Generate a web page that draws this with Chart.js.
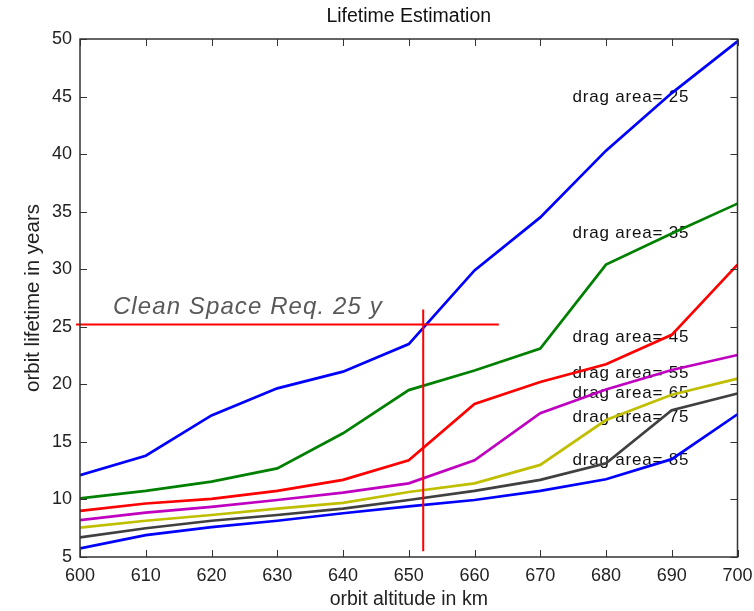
<!DOCTYPE html>
<html>
<head>
<meta charset="utf-8">
<script src="https://cdn.jsdelivr.net/npm/chart.js@4.4.1/dist/chart.umd.min.js"></script>
<style>
  html, body { margin: 0; padding: 0; background: #fff; }
  #wrap { width: 754px; height: 611px; }
</style>
</head>
<body>
<div id="wrap"><canvas id="lifetimeChart"></canvas></div>
<script>
// --- data ---
const altitudes = [600, 610, 620, 630, 640, 650, 660, 670, 680, 690, 700];
const dragAreas = [25, 35, 45, 55, 65, 75, 85];

// orbit lifetime in years per drag area
const life25 = [12.1, 13.8, 17.3, 19.65, 21.1, 23.5, 29.9, 34.5, 40.3, 45.3, 49.8];
const life35 = [10.1, 10.75, 11.55, 12.7, 15.75, 19.5, 21.2, 23.1, 30.4, 33.1, 35.7];
const life45 = [9.0, 9.65, 10.05, 10.75, 11.7, 13.4, 18.3, 20.2, 21.75, 24.3, 30.4];
const life55 = [8.2, 8.85, 9.35, 9.95, 10.6, 11.4, 13.4, 17.5, 19.55, 21.25, 22.55];
const life65 = [7.55, 8.15, 8.65, 9.2, 9.7, 10.65, 11.4, 13.0, 16.9, 19.1, 20.5];
const life75 = [6.7, 7.5, 8.15, 8.65, 9.2, 9.95, 10.75, 11.7, 13.15, 17.75, 19.2];
const life85 = [5.75, 6.9, 7.6, 8.15, 8.8, 9.4, 9.95, 10.75, 11.75, 13.5, 17.4];
const lifetimes = [life25, life35, life45, life55, life65, life75, life85];

// Clean Space requirement marker (25 years) and its crossing altitude
const reqYears = 25.2;
const reqSpan = [599.4, 663.7];
const crossAltitude = 652.2;
const crossSpan = [26.5, 5.5];

const lineColors = ['#0000ff', '#008000', '#ff0000', '#c000c0', '#bfbf00', '#404040', '#0000ff'];

// where the "drag area=" labels sit (data units)
const labelAlt = 674.9;
const labelLevels = [44.9, 33.1, 24.1, 21.0, 19.25, 17.15, 13.4];

const font = "'Liberation Sans', Arial, sans-serif";

// --- datasets ---
const datasets = [
    {
        label: 'req',
        data: reqSpan.map(a => ({ x: a, y: reqYears })),
        borderColor: '#ff0000', borderWidth: 2, pointRadius: 0, clip: false
    },
    {
        label: 'cross',
        data: crossSpan.map(v => ({ x: crossAltitude, y: v })),
        borderColor: '#ff0000', borderWidth: 2, pointRadius: 0, clip: false
    }
];
dragAreas.forEach((d, i) => {
    datasets.push({
        label: 'drag area= ' + d,
        data: altitudes.map((a, j) => ({ x: a, y: lifetimes[i][j] })),
        borderColor: lineColors[i],
        borderWidth: 2.7,
        pointRadius: 0,
        tension: 0
    });
});

// labels under the lines, then the Matlab-style box with inward ticks on top
const annotations = {
    id: 'annotations',
    beforeDatasetsDraw(chart) {
        const { ctx, scales: { x, y } } = chart;
        ctx.save();
        ctx.fillStyle = '#111';
        ctx.font = '17px ' + font;
        ctx.letterSpacing = '0.8px';
        ctx.textBaseline = 'middle';
        ctx.textAlign = 'left';
        dragAreas.forEach((d, i) => {
            ctx.fillText('drag area= ' + d, x.getPixelForValue(labelAlt), y.getPixelForValue(labelLevels[i]));
        });
        ctx.fillStyle = '#595959';
        ctx.font = 'italic 24px ' + font;
        ctx.letterSpacing = '1.1px';
        ctx.textBaseline = 'alphabetic';
        ctx.fillText('Clean Space Req. 25 y', x.getPixelForValue(605), y.getPixelForValue(reqYears) - 10);
        ctx.restore();
    },
    afterDraw(chart) {
        const { ctx, chartArea: a, scales: { x, y } } = chart;
        ctx.save();
        ctx.strokeStyle = '#333';
        ctx.lineWidth = 1.5;
        ctx.strokeRect(a.left, a.top, a.right - a.left, a.bottom - a.top);
        ctx.beginPath();
        x.ticks.forEach(t => {
            const px = Math.round(x.getPixelForValue(t.value)) + 0.5;
            ctx.moveTo(px, a.bottom); ctx.lineTo(px, a.bottom - 7);
            ctx.moveTo(px, a.top); ctx.lineTo(px, a.top + 7);
        });
        y.ticks.forEach(t => {
            const py = Math.round(y.getPixelForValue(t.value)) + 0.5;
            ctx.moveTo(a.left, py); ctx.lineTo(a.left + 7, py);
            ctx.moveTo(a.right, py); ctx.lineTo(a.right - 7, py);
        });
        ctx.lineWidth = 1;
        ctx.stroke();
        ctx.restore();
    }
};

new Chart(document.getElementById('lifetimeChart'), {
    type: 'line',
    data: { datasets },
    options: {
        responsive: true,
        maintainAspectRatio: false,
        animation: false,
        layout: { padding: { left: 0, right: 16.5, top: 0, bottom: 0 } },
        plugins: {
            legend: { display: false },
            tooltip: { enabled: false },
            title: {
                display: true,
                text: 'Lifetime Estimation',
                fullSize: false,
                color: '#111',
                font: { family: font, size: 19.5, weight: 'normal' },
                padding: { top: 5.3, bottom: 10.3 }
            }
        },
        scales: {
            x: {
                type: 'linear',
                min: 600, max: 700,
                grid: { display: false, drawTicks: false },
                border: { display: false },
                ticks: { stepSize: 10, color: '#222', font: { family: font, size: 18 }, padding: 8 },
                title: {
                    display: true, text: 'orbit altitude in km', color: '#222',
                    font: { family: font, size: 19.5 }, padding: { top: 0, bottom: 0 }
                },
                afterFit(scale) {
                    scale.height = 54;
                    scale.paddingRight = 0;
                    scale.paddingLeft = 0;
                }
            },
            y: {
                min: 5, max: 50,
                grid: { display: false, drawTicks: false },
                border: { display: false },
                ticks: { stepSize: 5, color: '#222', font: { family: font, size: 18 }, padding: 8 },
                title: {
                    display: true, text: 'orbit lifetime in years', color: '#222',
                    font: { family: font, size: 20.5 }, padding: { top: 20.7, bottom: 0 }
                },
                afterFit(scale) { scale.width = 80; }
            }
        }
    },
    plugins: [annotations]
});
</script>
</body>
</html>
